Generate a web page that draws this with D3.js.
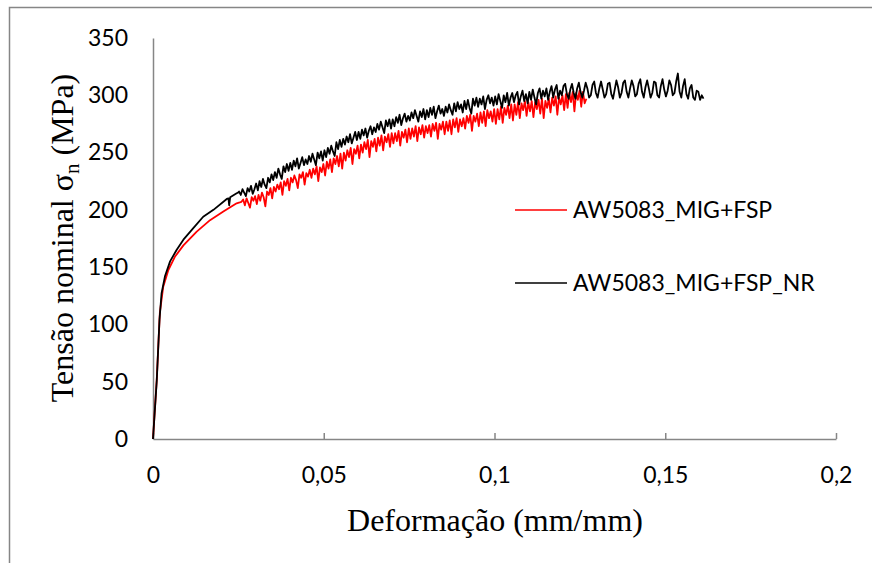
<!DOCTYPE html>
<html>
<head>
<meta charset="utf-8">
<script src="https://cdn.jsdelivr.net/npm/d3@7"></script>
<style>
  html, body { margin: 0; padding: 0; background: #fff; }
  svg { display: block; }
</style>
</head>
<body>
<svg id="chart" width="872" height="563"></svg>
<script>
// Series names, as shown in the legend
const seriesNames = ["AW5083_MIG+FSP", "AW5083_MIG+FSP_NR"];

// Axis ticks
const xTicks = [0, 0.05, 0.1, 0.15, 0.2];
const yTicks = [0, 50, 100, 150, 200, 250, 300, 350];

// Elastic / early plastic part of each test (strain, stress in MPa)
const fspStrainStart = [0, 0.0011, 0.002, 0.003, 0.0045, 0.0064, 0.0089, 0.0128, 0.0167, 0.0206, 0.0245, 0.0254];
const fspStressStart = [0, 52, 110, 133, 147.5, 159, 169, 181, 191, 198.5, 205.7, 206.5];

const nrStrainStart = [0, 0.0011, 0.0019, 0.0025, 0.0035, 0.005, 0.0069, 0.0089, 0.0118, 0.0147, 0.0177, 0.0216, 0.0221, 0.0223, 0.0226, 0.0245, 0.0249];
const nrStressStart = [0, 51, 104, 127, 142, 155, 165, 174, 184, 194, 200, 209.5, 210, 204, 211, 214.5, 215];

// Serrated plastic part, logged by the machine every 0.0005 of strain
const logStep = 0.0005;

// AW5083_MIG+FSP, from strain 0.0259
const fspLogStart = 0.0259;
const fspStressLog = [
  207, 209, 204, 210, 206, 202, 211, 208, 212, 205,
  213, 208, 215, 211, 203, 216, 213, 219, 210, 220,
  216, 222, 218, 224, 213, 225, 221, 227, 217, 228,
  224, 230, 226, 219, 231, 228, 233, 222, 232, 229,
  235, 228, 236, 231, 238, 225, 237, 233, 240, 230,
  242, 236, 244, 233, 245, 240, 247, 238, 249, 236,
  250, 243, 252, 246, 254, 240, 253, 249, 256, 245,
  257, 250, 259, 253, 261, 246, 260, 255, 262, 251,
  263, 256, 265, 252, 264, 259, 266, 255, 267, 258,
  267, 260, 269, 256, 268, 263, 270, 259, 271, 262,
  271, 264, 273, 260, 272, 266, 274, 263, 273, 267,
  274, 264, 275, 269, 276, 262, 275, 270, 277, 266,
  277, 269, 278, 266, 279, 272, 280, 268, 279, 273,
  280, 271, 282, 276, 283, 269, 282, 277, 284, 273,
  285, 276, 286, 273, 287, 280, 286, 277, 288, 275,
  288, 279, 290, 276, 289, 283, 291, 280, 292, 278,
  292, 283, 294, 280, 293, 287, 295, 282, 294, 286,
  295, 281, 294, 288, 296, 284, 297, 280, 295, 289,
  297, 285, 298, 291, 299, 283, 298, 292, 300, 287,
  301, 289, 302, 294, 303, 286, 302, 296, 304, 290,
  303, 293, 297
];

// AW5083_MIG+FSP_NR, from strain 0.0252
const nrLogStart = 0.0252;
const nrStressLog = [
  216, 213, 218, 215, 212, 219, 216, 221, 214, 218,
  223, 217, 225, 220, 227, 222, 219, 228, 224, 231,
  226, 233, 228, 236, 231, 227, 238, 233, 240, 234,
  241, 235, 243, 238, 245, 236, 241, 246, 239, 244,
  240, 247, 242, 249, 244, 239, 250, 245, 251, 243,
  252, 246, 254, 249, 256, 251, 247, 259, 253, 261,
  255, 262, 257, 264, 259, 266, 258, 263, 268, 261,
  268, 262, 270, 265, 271, 263, 269, 273, 266, 272,
  268, 275, 270, 277, 272, 267, 278, 273, 279, 271,
  279, 273, 281, 276, 283, 274, 280, 284, 277, 282,
  278, 285, 280, 287, 282, 277, 286, 281, 288, 279,
  287, 281, 289, 283, 290, 280, 286, 291, 284, 288,
  282, 290, 285, 292, 287, 283, 293, 286, 294, 288,
  292, 285, 295, 288, 296, 289, 284, 297, 291, 298,
  290, 297, 292, 299, 288, 296, 300, 293, 298, 291,
  299, 292, 301, 295, 289, 300, 294, 302, 291, 298,
  302, 294, 300, 303, 292, 299, 304, 295, 301, 293,
  303, 296, 305, 298, 292, 302, 306, 297, 304, 299,
  306, 296, 303, 308, 298, 305, 309, 297, 304, 300,
  308, 310, 301, 297, 305, 310, 302, 297, 306, 311,
  303, 298, 304, 311, 306, 298, 300, 309, 312, 302,
  298, 306, 312, 305, 298, 301, 310, 311, 301, 297,
  305, 313, 307, 298, 302, 311, 313, 303, 298, 306,
  313, 308, 299, 301, 310, 314, 303, 298, 307, 313,
  306, 298, 302, 312, 311, 300, 298, 308, 314, 305,
  299, 304, 313, 309, 300, 302, 312, 319, 303, 298,
  308, 314, 301, 297, 306, 309, 298, 296, 304, 303,
  296, 300, 297
];

const seriesColors = ["#ff0000", "#000000"];

// Join the initial branch and the logged samples into [strain, stress] points
function buildCurve(strainStart, stressStart, logStart, stressLog) {
  const pts = strainStart.map((s, i) => [s, stressStart[i]]);
  stressLog.forEach((v, i) => pts.push([logStart + i * logStep, v]));
  return pts;
}
const curves = [
  buildCurve(fspStrainStart, fspStressStart, fspLogStart, fspStressLog),
  buildCurve(nrStrainStart, nrStressStart, nrLogStart, nrStressLog)
];

const svg = d3.select("#chart");
const axisGray = "#868686";
const sansFont = "Lato, 'Open Sans', sans-serif";
const serifFont = "'Liberation Serif', 'Times New Roman', serif";

// Chart area frame
svg.append("rect")
  .attr("x", 9.5).attr("y", 7.5)
  .attr("width", 900).attr("height", 600)
  .attr("fill", "none").attr("stroke", axisGray).attr("stroke-width", 1.5);

const x = d3.scaleLinear().domain([0, 0.2]).range([153, 836]);
const y = d3.scaleLinear().domain([0, 350]).range([439, 38]);
const fmt = d => String(d).replace(".", ",");

// X axis: line with short upward ticks, labels below
const xAxis = svg.append("g").attr("transform", `translate(0,${y(0)})`)
  .call(d3.axisBottom(x).tickValues(xTicks).tickSize(-6).tickPadding(28).tickFormat(fmt).tickSizeOuter(0));
xAxis.select(".domain").attr("stroke", axisGray).attr("stroke-width", 1.5);
xAxis.selectAll(".tick line").attr("stroke", axisGray).attr("stroke-width", 1.5);
xAxis.selectAll(".tick text")
  .attr("font-family", sansFont).attr("font-size", 23).attr("fill", "#000")
  .attr("dy", "0.71em");

// Y axis: plain line, labels on the left
const yAxis = svg.append("g").attr("transform", `translate(${x(0)},0)`)
  .call(d3.axisLeft(y).tickValues(yTicks).tickSize(0).tickPadding(25).tickFormat(fmt));
yAxis.select(".domain").attr("stroke", axisGray).attr("stroke-width", 1.5);
yAxis.selectAll(".tick text")
  .attr("font-family", sansFont).attr("font-size", 23).attr("fill", "#000");

// Curves
const line = d3.line().x(d => x(d[0])).y(d => y(d[1]));
curves.forEach((c, i) => {
  svg.append("path")
    .datum(c)
    .attr("d", line)
    .attr("fill", "none")
    .attr("stroke", seriesColors[i])
    .attr("stroke-width", 1.8)
    .attr("stroke-linejoin", "round");
});

// Legend
const legendY = [210, 283];
seriesNames.forEach((name, i) => {
  svg.append("line")
    .attr("x1", 515).attr("x2", 567)
    .attr("y1", legendY[i]).attr("y2", legendY[i])
    .attr("stroke", seriesColors[i]).attr("stroke-width", 1.5);
  svg.append("text")
    .attr("x", 573).attr("y", legendY[i])
    .attr("dy", "0.36em")
    .attr("font-family", sansFont).attr("font-size", 23).attr("fill", "#000")
    .text(name);
});

// Axis titles
svg.append("text")
  .attr("x", 495).attr("y", 531)
  .attr("text-anchor", "middle")
  .attr("font-family", serifFont).attr("font-size", 32).attr("fill", "#000")
  .text("Deformação (mm/mm)");

const yTitle = svg.append("text")
  .attr("transform", "translate(73,238) rotate(-90)")
  .attr("text-anchor", "middle")
  .attr("font-family", serifFont).attr("font-size", 32).attr("fill", "#000");
yTitle.append("tspan").text("Tensão nominal σ");
yTitle.append("tspan").attr("font-size", 21).attr("dy", 6).text("n");
yTitle.append("tspan").attr("dy", -6).text(" (MPa)");
</script>
</body>
</html>
